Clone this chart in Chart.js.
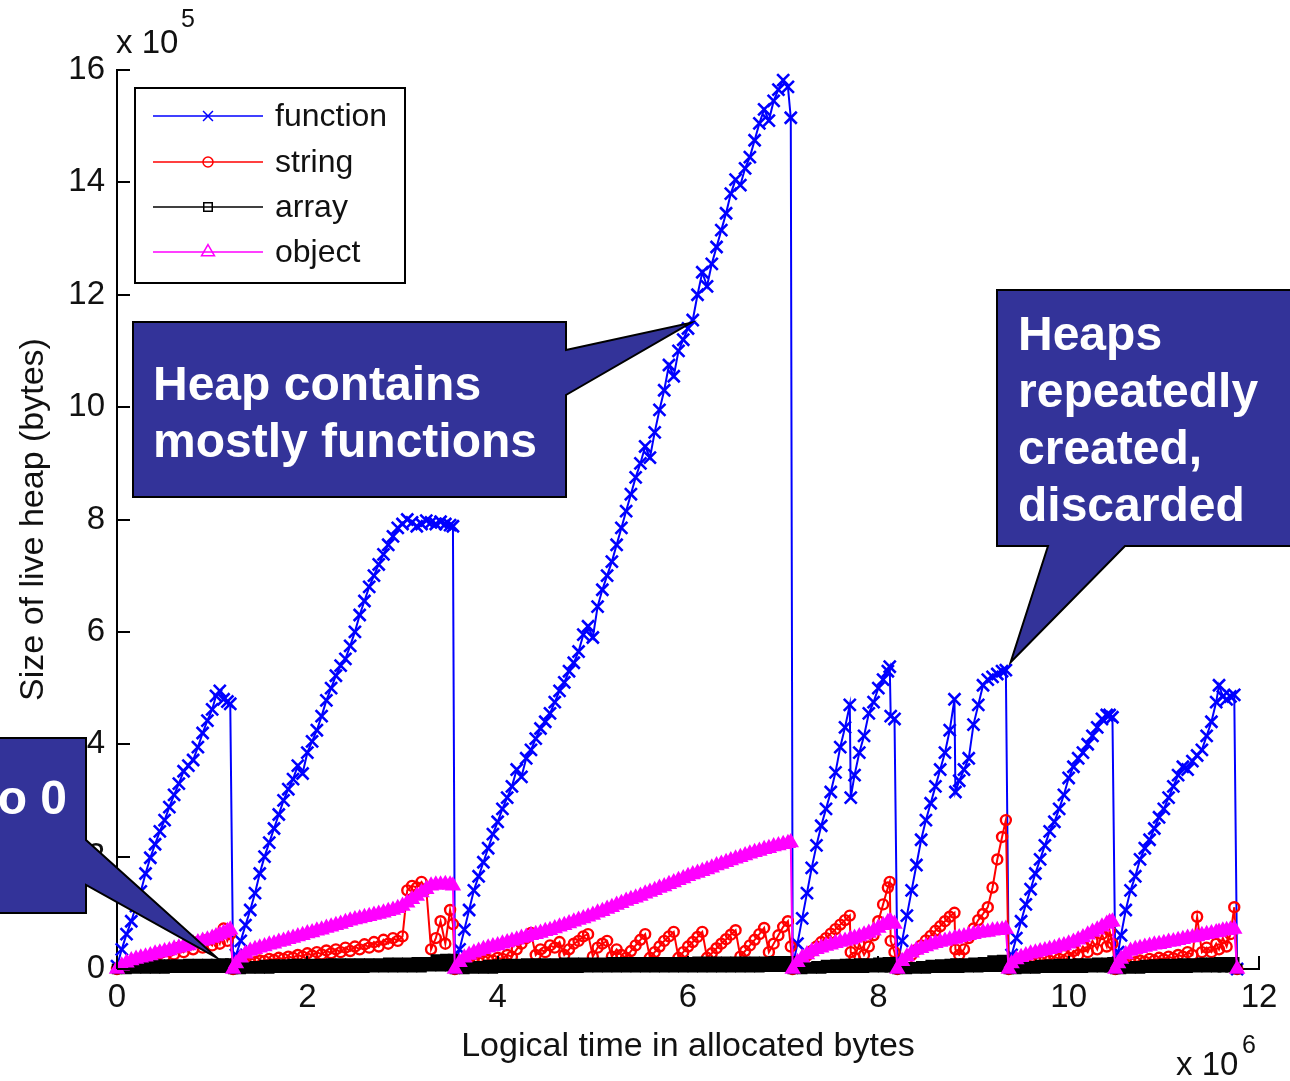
<!DOCTYPE html>
<html>
<head>
<meta charset="utf-8">
<title>Live heap size by object type</title>
<script src="https://cdn.jsdelivr.net/npm/chart.js@4.4.1/dist/chart.umd.min.js"></script>
<style>
  html, body { margin: 0; padding: 0; background: #ffffff; }
  #wrap { position: relative; width: 1290px; height: 1081px; overflow: hidden; }
  canvas { display: block; }
</style>
</head>
<body>
<div id="wrap"><canvas id="heapChart" width="1290" height="1081"></canvas></div>
<script>
// Logical time of each sample, in units of 10^6 allocated bytes (one line per heap lifetime)
const sampleTimes = [
  0.00,0.05,0.10,0.15,0.20,0.25,0.30,0.35,0.40,0.45,0.50,0.55,0.60,0.65,0.70,0.75,0.80,0.85,0.90,0.95,1.00,1.04,1.08,1.12,1.16,1.19,
  1.22,1.25,1.30,1.35,1.40,1.45,1.50,1.55,1.60,1.65,1.70,1.75,1.80,1.85,1.90,1.95,2.00,2.05,2.10,2.15,2.20,2.25,2.30,2.35,2.40,2.45,2.50,2.55,2.60,2.65,2.70,2.75,2.80,2.85,2.90,2.95,3.00,3.05,3.10,3.15,3.20,3.25,3.30,3.35,3.40,3.45,3.50,3.53,
  3.55,3.60,3.65,3.70,3.75,3.80,3.85,3.90,3.95,4.00,4.05,4.10,4.15,4.20,4.25,4.30,4.35,4.40,4.45,4.50,4.55,4.60,4.65,4.70,4.75,4.80,4.85,4.90,4.95,5.00,5.05,5.10,5.15,5.20,5.25,5.30,5.35,5.40,5.45,5.50,5.55,5.60,5.65,5.70,5.75,5.80,5.85,5.90,5.95,6.00,6.05,6.10,6.15,6.20,6.25,6.30,6.35,6.40,6.45,6.50,6.55,6.60,6.65,6.70,6.75,6.80,6.85,6.90,6.95,7.00,7.05,7.08,
  7.10,7.15,7.20,7.25,7.30,7.35,7.40,7.45,7.50,7.55,7.60,7.65,7.70,7.71,7.75,7.80,7.85,7.90,7.95,8.00,8.05,8.10,8.12,8.13,8.17,
  8.20,8.25,8.30,8.35,8.40,8.45,8.50,8.55,8.60,8.65,8.70,8.75,8.80,8.81,8.85,8.90,8.95,9.00,9.05,9.10,9.15,9.20,9.25,9.30,9.34,
  9.37,9.40,9.45,9.50,9.55,9.60,9.65,9.70,9.75,9.80,9.85,9.90,9.95,10.00,10.05,10.10,10.15,10.20,10.25,10.30,10.35,10.40,10.43,10.46,
  10.49,10.52,10.55,10.60,10.65,10.70,10.75,10.80,10.85,10.90,10.95,11.00,11.05,11.10,11.15,11.20,11.25,11.30,11.35,11.40,11.45,11.50,11.55,11.58,11.62,11.66,11.70,11.74,11.77
];

// Live bytes held by each object type, in units of 10^5 bytes
const functionHeap = [
  0.05,0.35,0.62,0.85,1.12,1.38,1.70,1.98,2.22,2.45,2.65,2.88,3.10,3.30,3.52,3.62,3.72,3.95,4.20,4.42,4.62,4.86,4.95,4.80,4.76,4.72,
  0.05,0.25,0.50,0.78,1.05,1.35,1.70,2.00,2.25,2.50,2.75,3.00,3.20,3.38,3.62,3.48,3.85,4.05,4.25,4.50,4.78,5.00,5.22,5.40,5.52,5.75,6.00,6.30,6.55,6.80,7.00,7.20,7.38,7.55,7.70,7.85,7.92,8.00,7.95,7.88,7.92,7.98,7.95,7.92,7.96,7.92,7.90,7.88,
  0.05,0.35,0.70,1.05,1.40,1.65,1.90,2.15,2.40,2.62,2.85,3.05,3.25,3.55,3.42,3.75,3.90,4.10,4.28,4.40,4.55,4.75,4.95,5.10,5.30,5.45,5.65,5.95,6.10,5.90,6.45,6.75,7.00,7.25,7.55,7.85,8.15,8.45,8.75,9.00,9.30,9.10,9.55,9.95,10.30,10.75,10.55,11.00,11.20,11.40,11.55,12.00,12.40,12.15,12.55,12.85,13.15,13.45,13.80,14.05,13.95,14.25,14.45,14.75,15.05,15.30,15.10,15.45,15.65,15.82,15.70,15.15,
  0.05,0.45,0.90,1.35,1.80,2.20,2.55,2.85,3.15,3.50,3.95,4.30,4.70,3.05,3.45,3.85,4.15,4.55,4.75,5.00,5.15,5.30,5.38,4.50,4.45,
  0.05,0.50,0.95,1.40,1.85,2.30,2.65,2.95,3.25,3.55,3.85,4.25,4.80,3.15,3.35,3.55,3.75,4.35,4.70,5.05,5.15,5.20,5.25,5.30,5.32,
  0.05,0.25,0.55,0.85,1.15,1.42,1.70,1.95,2.20,2.45,2.62,2.85,3.10,3.40,3.60,3.75,3.85,4.00,4.15,4.30,4.45,4.52,4.52,4.48,
  0.05,0.30,0.60,1.05,1.40,1.65,1.95,2.15,2.30,2.50,2.70,2.85,3.05,3.25,3.45,3.60,3.55,3.70,3.80,3.90,4.15,4.40,4.75,5.05,4.85,4.80,4.85,4.88,0.00
];
const stringHeap = [
  0.00,0.02,0.05,0.08,0.10,0.12,0.15,0.22,0.18,0.28,0.22,0.32,0.26,0.38,0.30,0.42,0.35,0.48,0.38,0.52,0.42,0.58,0.45,0.72,0.50,0.62,
  0.00,0.02,0.05,0.08,0.10,0.12,0.15,0.14,0.18,0.16,0.20,0.18,0.22,0.20,0.25,0.22,0.28,0.24,0.30,0.26,0.33,0.28,0.35,0.30,0.38,0.32,0.40,0.35,0.44,0.38,0.48,0.40,0.52,0.45,0.55,0.50,0.58,1.40,1.48,1.45,1.55,1.42,0.35,0.55,0.85,0.45,1.05,0.80,
  0.00,0.03,0.06,0.08,0.10,0.12,0.14,0.16,0.15,0.20,0.18,0.25,0.22,0.35,0.45,0.55,0.64,0.25,0.35,0.30,0.42,0.38,0.48,0.25,0.35,0.45,0.50,0.58,0.62,0.22,0.38,0.45,0.50,0.22,0.35,0.25,0.20,0.32,0.42,0.52,0.62,0.20,0.30,0.40,0.50,0.58,0.66,0.20,0.30,0.40,0.48,0.57,0.66,0.20,0.28,0.37,0.45,0.53,0.61,0.69,0.22,0.32,0.42,0.52,0.62,0.73,0.30,0.45,0.60,0.75,0.85,0.40,
  0.00,0.08,0.16,0.24,0.32,0.40,0.48,0.55,0.63,0.71,0.79,0.87,0.95,0.30,0.20,0.45,0.25,0.40,0.60,0.85,1.15,1.45,1.55,0.50,0.30,
  0.00,0.08,0.17,0.25,0.34,0.42,0.51,0.59,0.68,0.76,0.85,0.93,1.00,0.35,0.25,0.35,0.55,0.72,0.87,0.98,1.10,1.45,1.95,2.35,2.65,
  0.00,0.02,0.05,0.08,0.10,0.12,0.15,0.13,0.18,0.15,0.22,0.18,0.25,0.20,0.32,0.25,0.40,0.30,0.50,0.35,0.62,0.40,0.68,0.45,
  0.00,0.02,0.04,0.07,0.10,0.12,0.15,0.13,0.18,0.15,0.20,0.17,0.22,0.19,0.25,0.22,0.30,0.25,0.93,0.30,0.38,0.30,0.45,0.35,0.55,0.40,0.62,1.10,0.00
];
const arrayHeap = [
  0.00,0.01,0.00,0.04,0.01,0.06,0.01,0.07,0.01,0.08,0.01,0.08,0.02,0.08,0.02,0.09,0.02,0.09,0.02,0.09,0.02,0.09,0.02,0.10,0.02,0.10,
  0.00,0.01,0.00,0.03,0.01,0.05,0.01,0.07,0.01,0.08,0.02,0.08,0.02,0.09,0.02,0.09,0.02,0.09,0.02,0.09,0.02,0.10,0.02,0.10,0.02,0.10,0.02,0.10,0.02,0.10,0.03,0.10,0.03,0.11,0.03,0.11,0.03,0.11,0.03,0.12,0.03,0.12,0.05,0.17,0.05,0.18,0.05,0.18,
  0.00,0.01,0.00,0.03,0.01,0.05,0.01,0.07,0.01,0.08,0.02,0.09,0.02,0.09,0.02,0.10,0.02,0.10,0.02,0.10,0.02,0.10,0.02,0.11,0.02,0.11,0.02,0.11,0.03,0.11,0.03,0.11,0.03,0.12,0.03,0.12,0.03,0.12,0.03,0.12,0.03,0.12,0.03,0.12,0.03,0.12,0.03,0.12,0.03,0.12,0.03,0.13,0.03,0.13,0.03,0.13,0.03,0.13,0.03,0.13,0.03,0.13,0.03,0.13,0.03,0.13,0.04,0.14,0.04,0.14,0.04,0.14,
  0.00,0.01,0.00,0.03,0.01,0.05,0.01,0.07,0.02,0.08,0.02,0.09,0.02,0.09,0.02,0.10,0.02,0.10,0.03,0.11,0.03,0.12,0.03,0.12,0.03,
  0.00,0.01,0.00,0.03,0.01,0.05,0.01,0.07,0.02,0.08,0.02,0.09,0.02,0.10,0.02,0.10,0.03,0.11,0.03,0.12,0.04,0.15,0.04,0.16,0.05,
  0.00,0.01,0.00,0.03,0.01,0.05,0.01,0.07,0.02,0.08,0.02,0.09,0.02,0.09,0.02,0.10,0.02,0.10,0.03,0.11,0.03,0.11,0.03,0.12,
  0.00,0.01,0.00,0.03,0.01,0.05,0.01,0.07,0.02,0.08,0.02,0.09,0.02,0.09,0.02,0.10,0.02,0.10,0.03,0.11,0.03,0.11,0.03,0.12,0.03,0.12,0.03,0.12,0.00
];
const objectHeap = [
  0.00,0.06,0.11,0.15,0.18,0.20,0.22,0.24,0.27,0.29,0.31,0.33,0.36,0.38,0.40,0.42,0.45,0.47,0.50,0.52,0.55,0.58,0.61,0.64,0.67,0.70,
  0.00,0.10,0.20,0.27,0.32,0.35,0.38,0.40,0.43,0.45,0.48,0.50,0.53,0.55,0.58,0.60,0.63,0.65,0.68,0.70,0.73,0.75,0.78,0.80,0.83,0.86,0.88,0.90,0.92,0.94,0.96,0.98,1.00,1.03,1.05,1.08,1.12,1.18,1.24,1.30,1.36,1.42,1.48,1.50,1.50,1.51,1.50,1.48,
  0.00,0.12,0.20,0.25,0.29,0.32,0.35,0.38,0.40,0.42,0.45,0.47,0.50,0.52,0.55,0.57,0.60,0.62,0.64,0.67,0.69,0.72,0.75,0.78,0.81,0.84,0.87,0.90,0.93,0.96,1.00,1.03,1.07,1.10,1.14,1.17,1.21,1.24,1.27,1.30,1.34,1.37,1.40,1.44,1.47,1.51,1.54,1.58,1.61,1.65,1.68,1.71,1.74,1.77,1.80,1.84,1.87,1.90,1.93,1.96,1.99,2.02,2.05,2.08,2.10,2.13,2.15,2.18,2.20,2.22,2.24,2.25,
  0.00,0.12,0.20,0.26,0.31,0.35,0.38,0.41,0.43,0.46,0.48,0.50,0.52,0.53,0.55,0.58,0.61,0.64,0.68,0.73,0.78,0.83,0.84,0.84,0.80,
  0.00,0.14,0.22,0.29,0.34,0.37,0.40,0.43,0.46,0.48,0.50,0.52,0.54,0.54,0.56,0.58,0.60,0.62,0.64,0.65,0.66,0.68,0.69,0.70,0.71,
  0.00,0.10,0.17,0.21,0.24,0.27,0.29,0.31,0.33,0.35,0.37,0.40,0.42,0.45,0.48,0.52,0.56,0.61,0.66,0.70,0.75,0.80,0.83,0.84,
  0.00,0.10,0.18,0.26,0.32,0.35,0.37,0.39,0.41,0.43,0.44,0.46,0.48,0.49,0.51,0.53,0.55,0.56,0.58,0.60,0.62,0.63,0.65,0.66,0.68,0.69,0.70,0.71,0.00
];

const seriesLabels = ['function', 'string', 'array', 'object'];
const xTickValues = [0, 2, 4, 6, 8, 10, 12];
const yTickValues = [0, 2, 4, 6, 8, 10, 12, 14, 16];

// Callout wording and the data points they point at (x in 10^6, y in 10^5)
const calloutMostlyText = ['Heap contains', 'mostly functions'];
const calloutMostlyTarget = [6.03, 11.5];
const calloutCycleText = ['Heaps', 'repeatedly', 'created,', 'discarded'];
const calloutCycleTarget = [9.39, 5.46];
const calloutZeroText = ['Drops to 0'];
const calloutZeroTarget = [1.05, 0.2];

const FONT = '"Liberation Sans", Arial, Helvetica, sans-serif';
const INK = '#111111';

// Marker look per series; packed samples make the array and object markers read as solid bands
const seriesStyle = [
  { values: functionHeap, color: '#0000ff', marker: 'crossRot', radius: 8.5, stroke: 2.6, fill: 'rgba(0,0,0,0)', legendRadius: 7,   order: 4 },
  { values: stringHeap,   color: '#ff0000', marker: 'circle',   radius: 5,   stroke: 2.4, fill: 'rgba(0,0,0,0)', legendRadius: 5,   order: 3 },
  { values: arrayHeap,    color: '#000000', marker: 'rect',     radius: 6,   stroke: 2,   fill: '#000000',       legendRadius: 6,   order: 2 },
  { values: objectHeap,   color: '#ff00ff', marker: 'triangle', radius: 7.5, stroke: 2,   fill: '#ff00ff',       legendRadius: 7.5, order: 1 }
];

const datasets = seriesStyle.map((s, k) => ({
  label: seriesLabels[k],
  data: sampleTimes.map((t, i) => ({ x: t, y: s.values[i] })),
  showLine: true,
  borderColor: s.color,
  borderWidth: 2,
  pointStyle: s.marker,
  pointRadius: s.radius,
  pointHoverRadius: s.radius,
  pointBorderColor: s.color,
  pointBackgroundColor: s.fill,
  pointBorderWidth: s.stroke,
  tension: 0,
  order: s.order,
  clip: false
}));

// Inward MATLAB-style ticks, legend box, exponent labels and callouts
const decorations = {
  id: 'decorations',
  afterDraw(chart) {
    const { ctx, chartArea, scales } = chart;
    const xs = scales.x, ys = scales.y;
    ctx.save();

    // inward tick marks
    ctx.strokeStyle = '#000';
    ctx.lineWidth = 2;
    ctx.beginPath();
    xTickValues.forEach(v => {
      const px = Math.round(xs.getPixelForValue(v));
      ctx.moveTo(px, chartArea.bottom);
      ctx.lineTo(px, chartArea.bottom - 13);
    });
    yTickValues.forEach(v => {
      const py = Math.round(ys.getPixelForValue(v));
      ctx.moveTo(chartArea.left, py);
      ctx.lineTo(chartArea.left + 13, py);
    });
    ctx.stroke();

    // exponent labels
    ctx.fillStyle = INK;
    ctx.textAlign = 'left';
    ctx.textBaseline = 'alphabetic';
    ctx.font = '33px ' + FONT;
    ctx.fillText('x 10', chartArea.left - 1, 53);
    ctx.fillText('x 10', 1176, 1075);
    ctx.font = '25px ' + FONT;
    ctx.fillText('5', chartArea.left + 64, 27);
    ctx.fillText('6', 1242, 1053);

    // legend
    const lg = { x: 135, y: 88, w: 270, h: 195 };
    ctx.fillStyle = '#fff';
    ctx.fillRect(lg.x, lg.y, lg.w, lg.h);
    ctx.strokeStyle = '#000';
    ctx.lineWidth = 2;
    ctx.strokeRect(lg.x, lg.y, lg.w, lg.h);
    const rowY = [116, 162, 207, 252];
    chart.data.datasets.forEach((ds, i) => {
      const yy = rowY[i];
      ctx.strokeStyle = ds.borderColor;
      ctx.lineWidth = 1.6;
      ctx.beginPath();
      ctx.moveTo(153, yy);
      ctx.lineTo(263, yy);
      ctx.stroke();
      ctx.fillStyle = 'rgba(0,0,0,0)';
      ctx.strokeStyle = ds.pointBorderColor;
      ctx.lineWidth = 1.5;
      Chart.helpers.drawPoint(ctx, { pointStyle: ds.pointStyle, radius: seriesStyle[i].legendRadius, rotation: 0, borderWidth: 1.5 }, 208, yy);
      ctx.fillStyle = INK;
      ctx.font = '32px ' + FONT;
      ctx.textAlign = 'left';
      ctx.textBaseline = 'middle';
      ctx.fillText(ds.label, 275, yy + 1);
    });

    // callouts
    const callout = (pts) => {
      ctx.beginPath();
      ctx.moveTo(pts[0][0], pts[0][1]);
      for (let i = 1; i < pts.length; i++) ctx.lineTo(pts[i][0], pts[i][1]);
      ctx.closePath();
      ctx.fillStyle = '#333399';
      ctx.fill();
      ctx.strokeStyle = '#000';
      ctx.lineWidth = 2;
      ctx.lineJoin = 'miter';
      ctx.stroke();
    };
    const tip = (t) => [xs.getPixelForValue(t[0]), ys.getPixelForValue(t[1])];

    const t1 = tip(calloutMostlyTarget);
    callout([[133, 322], [566, 322], [566, 350], t1, [566, 395], [566, 497], [133, 497]]);
    const t2 = tip(calloutCycleTarget);
    callout([[997, 290], [1300, 290], [1300, 546], [1125, 546], t2, [1048, 546], [997, 546]]);
    const t3 = tip(calloutZeroTarget);
    callout([[-20, 738], [86, 738], [86, 840], t3, [86, 885], [86, 913], [-20, 913]]);

    ctx.fillStyle = '#ffffff';
    ctx.font = 'bold 48px ' + FONT;
    ctx.textBaseline = 'alphabetic';
    ctx.textAlign = 'left';
    calloutMostlyText.forEach((line, i) => ctx.fillText(line, 153, 400 + i * 57));
    calloutCycleText.forEach((line, i) => ctx.fillText(line, 1018, 350 + i * 57));
    ctx.textAlign = 'right';
    calloutZeroText.forEach((line, i) => ctx.fillText(line, 67, 814 + i * 57));

    ctx.restore();
  }
};

new Chart(document.getElementById('heapChart'), {
  type: 'scatter',
  data: { datasets },
  plugins: [decorations],
  options: {
    responsive: false,
    devicePixelRatio: 1,
    animation: false,
    events: [],
    layout: { padding: { top: 70, right: 31, left: 0, bottom: 0 } },
    plugins: { legend: { display: false }, tooltip: { enabled: false } },
    scales: {
      x: {
        type: 'linear',
        min: 0,
        max: 12,
        afterBuildTicks: s => { s.ticks = xTickValues.map(v => ({ value: v })); },
        afterFit: s => { s.height = 112; },
        grid: { display: false, drawTicks: false },
        border: { display: true, color: '#000', width: 2 },
        ticks: { font: { family: FONT, size: 33 }, color: INK, padding: 9, maxRotation: 0, autoSkip: false },
        title: { display: true, text: 'Logical time in allocated bytes', color: INK,
                 font: { family: FONT, size: 34 }, padding: { top: 0, bottom: 14 } }
      },
      y: {
        type: 'linear',
        min: 0,
        max: 16,
        afterBuildTicks: s => { s.ticks = yTickValues.map(v => ({ value: v })); },
        afterFit: s => { s.width = 117; },
        grid: { display: false, drawTicks: false },
        border: { display: true, color: '#000', width: 2 },
        ticks: { font: { family: FONT, size: 33 }, color: INK, padding: 12, autoSkip: false },
        title: { display: true, text: 'Size of live heap (bytes)', color: INK,
                 font: { family: FONT, size: 34 }, padding: { top: 13, bottom: 0 } }
      }
    }
  }
});
</script>
</body>
</html>
